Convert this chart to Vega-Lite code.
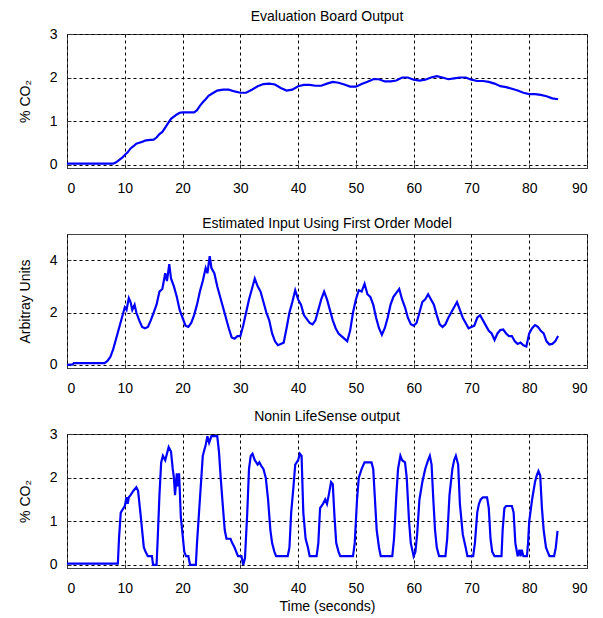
{
  "$schema": "https://vega.github.io/schema/vega-lite/v6.json",
  "padding": {"left": 17, "top": 9, "right": 10, "bottom": 5},
  "background": "white",
  "spacing": 66,
  "bounds": "flush",
  "config": {
    "font": "Liberation Sans",
    "view": {"stroke": "#444", "strokeWidth": 1},
    "title": {"font": "Liberation Sans", "fontSize": 14, "fontWeight": "normal", "color": "black", "offset": 3},
    "axis": {
      "labelFont": "Liberation Sans", "labelFontSize": 14, "labelColor": "black",
      "titleFont": "Liberation Sans", "titleFontSize": 14, "titleFontWeight": "normal", "titleColor": "black",
      "domain": false, "ticks": true, "tickSize": -4, "tickColor": "#333",
      "grid": true, "gridColor": "black", "gridDash": [3, 3], "gridOpacity": 1, "gridWidth": 1
    },
    "axisX": {"labelPadding": 17},
    "axisY": {"labelPadding": 14, "titlePadding": 17}
  },
  "datasets": {
    "board": [
      {"t": 0, "v": 0.02}, {"t": 8, "v": 0.02}, {"t": 8.5, "v": 0.05}, {"t": 9, "v": 0.1}, {"t": 9.5, "v": 0.15},
      {"t": 10, "v": 0.22}, {"t": 10.5, "v": 0.28}, {"t": 11, "v": 0.37}, {"t": 11.5, "v": 0.42}, {"t": 12, "v": 0.48},
      {"t": 12.5, "v": 0.5}, {"t": 13, "v": 0.52}, {"t": 13.5, "v": 0.55}, {"t": 14, "v": 0.56}, {"t": 15, "v": 0.57},
      {"t": 15.5, "v": 0.62}, {"t": 16, "v": 0.7}, {"t": 16.5, "v": 0.75}, {"t": 17, "v": 0.85}, {"t": 17.5, "v": 0.95},
      {"t": 18, "v": 1.05}, {"t": 18.5, "v": 1.1}, {"t": 19, "v": 1.15}, {"t": 19.5, "v": 1.19}, {"t": 20, "v": 1.2},
      {"t": 22, "v": 1.2}, {"t": 22.5, "v": 1.25}, {"t": 23, "v": 1.35}, {"t": 23.5, "v": 1.43}, {"t": 24, "v": 1.5},
      {"t": 24.5, "v": 1.58}, {"t": 25, "v": 1.62}, {"t": 25.5, "v": 1.66}, {"t": 26, "v": 1.7}, {"t": 27, "v": 1.72},
      {"t": 28, "v": 1.72}, {"t": 29, "v": 1.68}, {"t": 30, "v": 1.65}, {"t": 31, "v": 1.65}, {"t": 32, "v": 1.72},
      {"t": 33, "v": 1.8}, {"t": 34, "v": 1.85}, {"t": 35, "v": 1.86}, {"t": 36, "v": 1.84}, {"t": 37, "v": 1.76},
      {"t": 38, "v": 1.7}, {"t": 39, "v": 1.72}, {"t": 40, "v": 1.8}, {"t": 41, "v": 1.83}, {"t": 42, "v": 1.83},
      {"t": 43, "v": 1.81}, {"t": 44, "v": 1.81}, {"t": 45, "v": 1.86}, {"t": 46, "v": 1.9}, {"t": 47, "v": 1.88},
      {"t": 48, "v": 1.84}, {"t": 49, "v": 1.79}, {"t": 50, "v": 1.79}, {"t": 51, "v": 1.85}, {"t": 52, "v": 1.9},
      {"t": 53, "v": 1.96}, {"t": 54, "v": 1.96}, {"t": 55, "v": 1.91}, {"t": 56, "v": 1.91}, {"t": 57, "v": 1.93},
      {"t": 58, "v": 2.0}, {"t": 59, "v": 2.0}, {"t": 60, "v": 1.95}, {"t": 61, "v": 1.93}, {"t": 62, "v": 1.95},
      {"t": 63, "v": 2.0}, {"t": 64, "v": 2.03}, {"t": 65, "v": 2.0}, {"t": 66, "v": 1.96}, {"t": 67, "v": 1.98},
      {"t": 68, "v": 2.0}, {"t": 69, "v": 2.0}, {"t": 70, "v": 1.95}, {"t": 71, "v": 1.92}, {"t": 72, "v": 1.92},
      {"t": 73, "v": 1.9}, {"t": 74, "v": 1.86}, {"t": 75, "v": 1.8}, {"t": 76, "v": 1.78}, {"t": 77, "v": 1.74},
      {"t": 78, "v": 1.7}, {"t": 79, "v": 1.65}, {"t": 80, "v": 1.62}, {"t": 81, "v": 1.62}, {"t": 82, "v": 1.6},
      {"t": 83, "v": 1.57}, {"t": 84, "v": 1.52}, {"t": 85, "v": 1.5}
    ],
    "estimated": [
      {"t": 0, "v": 0.0}, {"t": 1, "v": 0.02}, {"t": 1.2, "v": 0.07}, {"t": 6.5, "v": 0.07}, {"t": 7, "v": 0.15},
      {"t": 7.5, "v": 0.3}, {"t": 8, "v": 0.6}, {"t": 8.5, "v": 1.0}, {"t": 9, "v": 1.4}, {"t": 9.5, "v": 1.8},
      {"t": 10, "v": 2.2}, {"t": 10.3, "v": 2.1}, {"t": 10.7, "v": 2.55}, {"t": 11, "v": 2.4}, {"t": 11.3, "v": 2.1},
      {"t": 11.7, "v": 2.3}, {"t": 12, "v": 2.0}, {"t": 12.5, "v": 1.7}, {"t": 13, "v": 1.45}, {"t": 13.5, "v": 1.4},
      {"t": 14, "v": 1.45}, {"t": 14.5, "v": 1.7}, {"t": 15, "v": 2.0}, {"t": 15.5, "v": 2.3}, {"t": 16, "v": 2.8},
      {"t": 16.5, "v": 2.9}, {"t": 17, "v": 3.5}, {"t": 17.3, "v": 3.2}, {"t": 17.7, "v": 3.85}, {"t": 18, "v": 3.3},
      {"t": 18.5, "v": 3.0}, {"t": 19, "v": 2.6}, {"t": 19.5, "v": 2.1}, {"t": 20, "v": 1.8}, {"t": 20.5, "v": 1.5},
      {"t": 21, "v": 1.45}, {"t": 21.5, "v": 1.6}, {"t": 22, "v": 1.9}, {"t": 22.5, "v": 2.3}, {"t": 23, "v": 2.8},
      {"t": 23.5, "v": 3.2}, {"t": 24, "v": 3.7}, {"t": 24.3, "v": 3.5}, {"t": 24.7, "v": 4.15}, {"t": 25, "v": 3.7},
      {"t": 25.5, "v": 3.5}, {"t": 26, "v": 3.0}, {"t": 26.5, "v": 2.6}, {"t": 27, "v": 2.2}, {"t": 27.5, "v": 1.8},
      {"t": 28, "v": 1.4}, {"t": 28.5, "v": 1.05}, {"t": 29, "v": 1.0}, {"t": 29.5, "v": 1.1}, {"t": 30, "v": 1.1},
      {"t": 30.5, "v": 1.5}, {"t": 31, "v": 2.0}, {"t": 31.5, "v": 2.5}, {"t": 32, "v": 2.9}, {"t": 32.5, "v": 3.3},
      {"t": 33, "v": 3.0}, {"t": 33.5, "v": 2.8}, {"t": 34, "v": 2.4}, {"t": 34.5, "v": 2.0}, {"t": 35, "v": 1.7},
      {"t": 35.5, "v": 1.2}, {"t": 36, "v": 0.9}, {"t": 36.5, "v": 0.75}, {"t": 37, "v": 0.8}, {"t": 37.5, "v": 0.85},
      {"t": 38, "v": 1.4}, {"t": 38.5, "v": 2.0}, {"t": 39, "v": 2.4}, {"t": 39.5, "v": 2.85}, {"t": 40, "v": 2.5},
      {"t": 40.5, "v": 2.3}, {"t": 41, "v": 1.9}, {"t": 42, "v": 1.6}, {"t": 42.5, "v": 1.55}, {"t": 43, "v": 1.7},
      {"t": 43.5, "v": 2.1}, {"t": 44, "v": 2.5}, {"t": 44.5, "v": 2.8}, {"t": 45, "v": 2.5}, {"t": 45.5, "v": 2.1},
      {"t": 46, "v": 1.7}, {"t": 46.5, "v": 1.4}, {"t": 47, "v": 1.2}, {"t": 47.5, "v": 1.1}, {"t": 48, "v": 1.0},
      {"t": 48.5, "v": 0.9}, {"t": 49, "v": 1.3}, {"t": 49.5, "v": 2.0}, {"t": 50, "v": 2.5}, {"t": 50.5, "v": 2.85},
      {"t": 51, "v": 2.8}, {"t": 51.5, "v": 3.1}, {"t": 52, "v": 2.7}, {"t": 52.5, "v": 2.6}, {"t": 53, "v": 2.3},
      {"t": 53.5, "v": 1.8}, {"t": 54, "v": 1.4}, {"t": 54.5, "v": 1.15}, {"t": 55, "v": 1.4}, {"t": 55.5, "v": 1.8},
      {"t": 56, "v": 2.3}, {"t": 56.5, "v": 2.6}, {"t": 57, "v": 2.75}, {"t": 57.5, "v": 2.9}, {"t": 58, "v": 2.5},
      {"t": 58.5, "v": 2.2}, {"t": 59, "v": 1.8}, {"t": 59.5, "v": 1.55}, {"t": 60, "v": 1.5}, {"t": 60.5, "v": 1.6},
      {"t": 61, "v": 2.0}, {"t": 61.5, "v": 2.4}, {"t": 62, "v": 2.5}, {"t": 62.5, "v": 2.7}, {"t": 63, "v": 2.5},
      {"t": 63.5, "v": 2.3}, {"t": 64, "v": 1.9}, {"t": 64.5, "v": 1.55}, {"t": 65, "v": 1.45}, {"t": 65.5, "v": 1.55},
      {"t": 66, "v": 1.8}, {"t": 66.5, "v": 2.0}, {"t": 67, "v": 2.2}, {"t": 67.5, "v": 2.4}, {"t": 68, "v": 2.1},
      {"t": 68.5, "v": 1.8}, {"t": 69, "v": 1.6}, {"t": 69.5, "v": 1.4}, {"t": 70, "v": 1.45}, {"t": 70.5, "v": 1.5},
      {"t": 71, "v": 1.8}, {"t": 71.5, "v": 1.9}, {"t": 72, "v": 1.7}, {"t": 72.5, "v": 1.5}, {"t": 73, "v": 1.3},
      {"t": 73.5, "v": 1.2}, {"t": 74, "v": 0.95}, {"t": 74.5, "v": 1.2}, {"t": 75, "v": 1.33}, {"t": 75.5, "v": 1.35},
      {"t": 76, "v": 1.2}, {"t": 76.5, "v": 1.1}, {"t": 77, "v": 1.1}, {"t": 77.5, "v": 0.9}, {"t": 78, "v": 0.8},
      {"t": 78.5, "v": 0.85}, {"t": 79, "v": 0.75}, {"t": 79.5, "v": 0.7}, {"t": 80, "v": 1.2}, {"t": 80.5, "v": 1.4},
      {"t": 81, "v": 1.52}, {"t": 81.5, "v": 1.45}, {"t": 82, "v": 1.3}, {"t": 82.5, "v": 1.2}, {"t": 83, "v": 0.9},
      {"t": 83.5, "v": 0.78}, {"t": 84, "v": 0.8}, {"t": 84.5, "v": 0.9}, {"t": 85, "v": 1.1}
    ],
    "nonin": [
      {"t": 0, "v": 0.03}, {"t": 8.8, "v": 0.03}, {"t": 9.0, "v": 0.6}, {"t": 9.3, "v": 1.2}, {"t": 10, "v": 1.35},
      {"t": 10.3, "v": 1.55}, {"t": 10.5, "v": 1.4}, {"t": 10.7, "v": 1.55}, {"t": 11, "v": 1.6}, {"t": 11.5, "v": 1.7},
      {"t": 12, "v": 1.78}, {"t": 12.3, "v": 1.7}, {"t": 12.7, "v": 1.2}, {"t": 13, "v": 0.8}, {"t": 13.3, "v": 0.4},
      {"t": 13.6, "v": 0.3}, {"t": 14, "v": 0.2}, {"t": 14.7, "v": 0.2}, {"t": 14.9, "v": 0.0}, {"t": 15.5, "v": 0.0},
      {"t": 15.7, "v": 0.6}, {"t": 16, "v": 1.6}, {"t": 16.3, "v": 2.35}, {"t": 16.6, "v": 2.5}, {"t": 17, "v": 2.4},
      {"t": 17.3, "v": 2.55}, {"t": 17.6, "v": 2.7}, {"t": 18, "v": 2.6}, {"t": 18.3, "v": 2.2}, {"t": 18.5, "v": 2.0},
      {"t": 18.7, "v": 1.6}, {"t": 19, "v": 2.1}, {"t": 19.2, "v": 1.8}, {"t": 19.4, "v": 2.1}, {"t": 19.7, "v": 1.1},
      {"t": 20, "v": 0.7}, {"t": 20.3, "v": 0.3}, {"t": 20.6, "v": 0.2}, {"t": 21, "v": 0.2}, {"t": 21.3, "v": 0.0},
      {"t": 22.3, "v": 0.0}, {"t": 22.5, "v": 0.5}, {"t": 23, "v": 1.5}, {"t": 23.5, "v": 2.5}, {"t": 24, "v": 2.75},
      {"t": 24.3, "v": 2.95}, {"t": 24.6, "v": 2.8}, {"t": 25, "v": 2.95}, {"t": 26, "v": 2.95}, {"t": 26.3, "v": 2.6},
      {"t": 26.6, "v": 2.0}, {"t": 27, "v": 1.3}, {"t": 27.3, "v": 0.8}, {"t": 27.6, "v": 0.6}, {"t": 28.3, "v": 0.6},
      {"t": 28.6, "v": 0.5}, {"t": 29, "v": 0.4}, {"t": 29.3, "v": 0.3}, {"t": 29.6, "v": 0.2}, {"t": 30.2, "v": 0.2},
      {"t": 30.5, "v": 0.0}, {"t": 30.8, "v": 0.15}, {"t": 31.2, "v": 1.2}, {"t": 31.5, "v": 2.2}, {"t": 31.8, "v": 2.5},
      {"t": 32.1, "v": 2.55}, {"t": 32.5, "v": 2.4}, {"t": 33, "v": 2.3}, {"t": 33.3, "v": 2.35}, {"t": 33.7, "v": 2.25},
      {"t": 34, "v": 2.2}, {"t": 34.4, "v": 2.0}, {"t": 34.8, "v": 1.5}, {"t": 35.2, "v": 0.8}, {"t": 35.5, "v": 0.5},
      {"t": 35.9, "v": 0.3}, {"t": 36.2, "v": 0.2}, {"t": 38.2, "v": 0.2}, {"t": 38.5, "v": 0.4}, {"t": 38.8, "v": 1.2},
      {"t": 39.2, "v": 1.8}, {"t": 39.5, "v": 2.3}, {"t": 40, "v": 2.4}, {"t": 40.3, "v": 2.55}, {"t": 40.6, "v": 2.5},
      {"t": 40.9, "v": 1.2}, {"t": 41.3, "v": 0.6}, {"t": 41.7, "v": 0.4}, {"t": 42, "v": 0.2}, {"t": 43.2, "v": 0.2},
      {"t": 43.5, "v": 0.5}, {"t": 43.8, "v": 1.3}, {"t": 44.3, "v": 1.4}, {"t": 44.7, "v": 1.5}, {"t": 45, "v": 1.4},
      {"t": 45.3, "v": 1.6}, {"t": 45.7, "v": 1.9}, {"t": 46, "v": 1.85}, {"t": 46.3, "v": 1.1}, {"t": 46.6, "v": 0.5},
      {"t": 47, "v": 0.3}, {"t": 47.3, "v": 0.2}, {"t": 49.5, "v": 0.2}, {"t": 49.8, "v": 0.5}, {"t": 50.2, "v": 1.5},
      {"t": 50.5, "v": 2.0}, {"t": 51, "v": 2.2}, {"t": 51.5, "v": 2.35}, {"t": 52.7, "v": 2.35}, {"t": 53, "v": 2.2},
      {"t": 53.3, "v": 1.5}, {"t": 53.6, "v": 0.8}, {"t": 54, "v": 0.4}, {"t": 54.3, "v": 0.2}, {"t": 56.3, "v": 0.2},
      {"t": 56.6, "v": 0.6}, {"t": 57, "v": 1.6}, {"t": 57.3, "v": 2.2}, {"t": 57.7, "v": 2.5}, {"t": 58, "v": 2.4},
      {"t": 58.5, "v": 2.35}, {"t": 58.8, "v": 2.0}, {"t": 59.2, "v": 1.0}, {"t": 59.5, "v": 0.5}, {"t": 60, "v": 0.2},
      {"t": 60.3, "v": 0.3}, {"t": 60.6, "v": 0.7}, {"t": 61, "v": 1.5}, {"t": 61.5, "v": 1.9}, {"t": 62, "v": 2.2},
      {"t": 62.5, "v": 2.4}, {"t": 62.8, "v": 2.5}, {"t": 63.1, "v": 2.3}, {"t": 63.4, "v": 1.5}, {"t": 63.7, "v": 0.8},
      {"t": 64, "v": 0.4}, {"t": 64.4, "v": 0.2}, {"t": 65.5, "v": 0.2}, {"t": 65.8, "v": 0.6}, {"t": 66.2, "v": 1.6},
      {"t": 66.7, "v": 2.2}, {"t": 67, "v": 2.4}, {"t": 67.3, "v": 2.5}, {"t": 67.7, "v": 2.3}, {"t": 68, "v": 1.4},
      {"t": 68.5, "v": 0.7}, {"t": 69, "v": 0.4}, {"t": 69.3, "v": 0.2}, {"t": 70.3, "v": 0.2}, {"t": 70.6, "v": 0.5},
      {"t": 71, "v": 1.2}, {"t": 71.3, "v": 1.4}, {"t": 71.6, "v": 1.5}, {"t": 72, "v": 1.55}, {"t": 72.7, "v": 1.55},
      {"t": 73, "v": 1.3}, {"t": 73.3, "v": 0.6}, {"t": 73.6, "v": 0.3}, {"t": 74, "v": 0.2}, {"t": 75.2, "v": 0.2},
      {"t": 75.4, "v": 0.8}, {"t": 75.7, "v": 1.3}, {"t": 76, "v": 1.35}, {"t": 77, "v": 1.35}, {"t": 77.3, "v": 1.2},
      {"t": 77.6, "v": 0.5}, {"t": 78, "v": 0.2}, {"t": 78.3, "v": 0.35}, {"t": 78.5, "v": 0.2}, {"t": 78.7, "v": 0.35},
      {"t": 79, "v": 0.2}, {"t": 79.6, "v": 0.2}, {"t": 79.8, "v": 0.5}, {"t": 80, "v": 1.0}, {"t": 80.5, "v": 1.5},
      {"t": 81, "v": 1.9}, {"t": 81.3, "v": 2.05}, {"t": 81.6, "v": 2.15}, {"t": 81.9, "v": 2.05}, {"t": 82.2, "v": 1.3},
      {"t": 82.5, "v": 0.8}, {"t": 82.9, "v": 0.4}, {"t": 83.2, "v": 0.3}, {"t": 83.5, "v": 0.2}, {"t": 84.3, "v": 0.2},
      {"t": 84.6, "v": 0.4}, {"t": 84.9, "v": 0.78}
    ]
  },
  "vconcat": [
    {
      "title": "Evaluation Board Output",
      "width": 520, "height": 134,
      "data": {"name": "board"},
      "mark": {"type": "line", "color": "#0000ff", "strokeWidth": 2.2, "clip": true},
      "encoding": {
        "x": {"field": "t", "type": "quantitative", "scale": {"domain": [0, 90], "nice": false},
              "axis": {"values": [0, 10, 20, 30, 40, 50, 60, 70, 80, 90], "title": null}},
        "y": {"field": "v", "type": "quantitative", "scale": {"domain": [-0.08, 3], "nice": false, "zero": false},
              "axis": {"values": [0, 1, 2, 3], "title": "% CO₂"}}
      }
    },
    {
      "title": "Estimated Input Using First Order Model",
      "width": 520, "height": 134,
      "data": {"name": "estimated"},
      "mark": {"type": "line", "color": "#0000ff", "strokeWidth": 2.2, "clip": true},
      "encoding": {
        "x": {"field": "t", "type": "quantitative", "scale": {"domain": [0, 90], "nice": false},
              "axis": {"values": [0, 10, 20, 30, 40, 50, 60, 70, 80, 90], "title": null}},
        "y": {"field": "v", "type": "quantitative", "scale": {"domain": [-0.12, 5], "nice": false, "zero": false},
              "axis": {"values": [0, 2, 4], "title": "Arbitray Units"}}
      }
    },
    {
      "title": "Nonin LifeSense output",
      "width": 520, "height": 134,
      "data": {"name": "nonin"},
      "mark": {"type": "line", "color": "#0000ff", "strokeWidth": 2.2, "clip": true},
      "encoding": {
        "x": {"field": "t", "type": "quantitative", "scale": {"domain": [0, 90], "nice": false},
              "axis": {"values": [0, 10, 20, 30, 40, 50, 60, 70, 80, 90], "title": "Time (seconds)", "titlePadding": 4}},
        "y": {"field": "v", "type": "quantitative", "scale": {"domain": [-0.07, 3], "nice": false, "zero": false},
              "axis": {"values": [0, 1, 2, 3], "title": "% CO₂"}}
      }
    }
  ]
}
